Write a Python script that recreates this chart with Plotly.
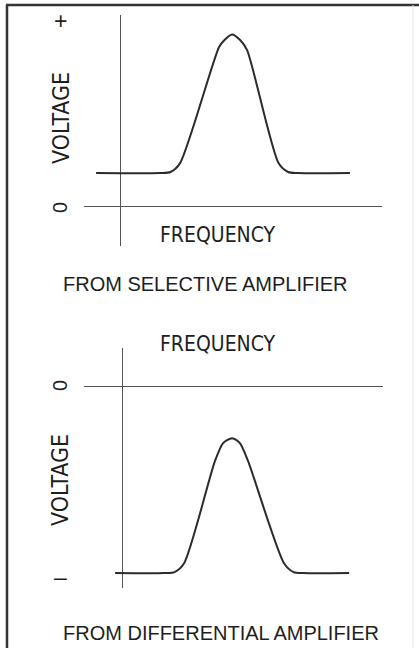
import plotly.graph_objects as go

W, H = 419, 648

# top panel: output of the selective amplifier (arbitrary units)
sel_freq = [-0.83, 1.3, 1.65, 1.97, 3.27, 3.45, 3.7, 3.97, 4.2, 5.25, 5.57, 5.9, 7.63]
sel_volt = [1.0, 1.0, 1.03, 1.3, 4.82, 5.03, 5.2, 5.03, 4.73, 1.3, 1.03, 1.0, 1.0]
sel_ticks = [5.6, -0.06]
sel_ticktext = ["+", "0"]

# bottom panel: output of the differential amplifier
dif_freq = [-0.23, 1.4, 1.75, 2.07, 3.1, 3.37, 3.67, 3.93, 4.2, 5.4, 5.72, 6.05, 7.57]
dif_volt = [-5.67, -5.67, -5.64, -5.37, -2.27, -1.73, -1.58, -1.73, -2.27, -5.37, -5.64, -5.67, -5.67]
dif_ticks = [0, -5.79]
dif_ticktext = ["0", "\u2013"]

INK = "#1e1e1e"
label_font = dict(family="Liberation Sans Narrow, DejaVu Sans Condensed, Arial Narrow, sans-serif",
                  size=23, color=INK)
freq_font = dict(label_font, size=21)
caption_font = dict(family="Liberation Sans, Arial, sans-serif", size=20, color=INK)
tick_font = dict(family="Liberation Sans, Arial, sans-serif", size=20, color=INK)
plus_font = dict(tick_font, size=23)


def px(x):
    return x / W


def py(y):
    return 1 - y / H


fig = go.Figure()
fig.add_trace(go.Scatter(x=sel_freq, y=sel_volt, mode="lines", xaxis="x", yaxis="y",
                         line=dict(color="#2b2b2b", width=2, shape="spline", smoothing=0.7),
                         hoverinfo="skip", showlegend=False))
fig.add_trace(go.Scatter(x=dif_freq, y=dif_volt, mode="lines", xaxis="x2", yaxis="y2",
                         line=dict(color="#2b2b2b", width=2, shape="spline", smoothing=0.7),
                         hoverinfo="skip", showlegend=False))

ax = dict(showgrid=False, showline=False, showticklabels=False, ticks="",
          zeroline=True, zerolinecolor="#555", zerolinewidth=1, fixedrange=True)

fig.update_layout(
    width=W, height=H,
    margin=dict(l=0, r=0, t=0, b=0),
    paper_bgcolor="white", plot_bgcolor="white",
    xaxis=dict(ax, domain=[px(84), px(382)], range=[-1.233, 8.7], anchor="y"),
    yaxis=dict(ax, domain=[py(246), py(15)], range=[-1.212, 5.788], anchor="x"),
    xaxis2=dict(ax, domain=[px(84), px(383)], range=[-1.267, 8.7], anchor="y2"),
    yaxis2=dict(ax, domain=[py(588), py(348)], range=[-6.121, 1.152], anchor="x2"),
)

# voltage tick marks, placed on each panel's own y scale
for yref, vals, texts in [("y", sel_ticks, sel_ticktext), ("y2", dif_ticks, dif_ticktext)]:
    for v, t in zip(vals, texts):
        if t == "0":
            font, ang = tick_font, -90
        else:
            font, ang = plus_font, 0
        fig.add_annotation(text=t, xref="paper", yref=yref, x=px(60), y=v,
                           xanchor="center", yanchor="middle", textangle=ang,
                           showarrow=False, font=font)

annots = [
    ("FREQUENCY", 218, 235, 0, freq_font),
    ("VOLTAGE", 61, 118, -90, label_font),
    ("FROM SELECTIVE AMPLIFIER", 205, 284, 0, caption_font),
    ("FREQUENCY", 218, 344, 0, freq_font),
    ("VOLTAGE", 60, 480, -90, label_font),
    ("FROM DIFFERENTIAL AMPLIFIER", 221, 633, 0, caption_font),
]
for text, x, y, ang, font in annots:
    fig.add_annotation(text=text, xref="paper", yref="paper", x=px(x), y=py(y),
                       xanchor="center", yanchor="middle", textangle=ang,
                       showarrow=False, font=font)

# frame around the figure
fig.add_shape(type="line", xref="paper", yref="paper", x0=px(7), x1=px(7), y0=py(5), y1=0,
              line=dict(color="#333", width=2.5))
fig.add_shape(type="line", xref="paper", yref="paper", x0=px(6), x1=1, y0=py(5), y1=py(5),
              line=dict(color="#333", width=2.5))
fig.add_shape(type="line", xref="paper", yref="paper", x0=px(413), x1=px(413), y0=py(5), y1=0,
              line=dict(color="#e4e4e4", width=1))

# page body has a default 8px margin; drop it so the figure fills the window
fig.write_html("out.html", config={"displayModeBar": False},
               post_script="document.body.style.margin='0';")
